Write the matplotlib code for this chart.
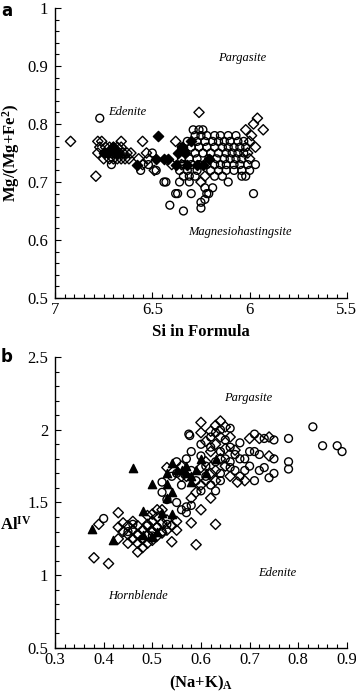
import matplotlib
matplotlib.use("Agg")
import matplotlib.pyplot as plt
from matplotlib.ticker import MultipleLocator

plt.rcParams['font.family'] = ['Liberation Serif', 'DejaVu Serif']
plt.rcParams['mathtext.fontset'] = 'custom'
plt.rcParams['mathtext.rm'] = 'Liberation Serif'
plt.rcParams['mathtext.bf'] = 'Liberation Serif:bold'
plt.rcParams['mathtext.it'] = 'Liberation Serif:italic'

# ---- panel a : Si vs Mg/(Mg+Fe2) ----
a_circ_si = [6.77, 6.71, 6.50, 6.56, 6.48, 6.52, 6.44, 6.37, 6.30, 5.98, 6.43, 6.41, 6.34, 6.38,
             6.36, 6.25, 6.25, 6.23, 6.21, 6.19, 6.11, 6.23, 6.22, 6.31, 6.28,
             6.29, 6.26, 6.24,
             6.28, 6.25, 6.22, 6.18, 6.15, 6.11, 6.07,
             6.32, 6.27, 6.23, 6.19, 6.16, 6.13, 6.10, 6.06, 6.03,
             6.35, 6.30, 6.26, 6.22, 6.18, 6.14, 6.11, 6.08, 6.05, 6.02,
             6.33, 6.28, 6.24, 6.20, 6.16, 6.12, 6.09, 6.06, 6.03,
             6.35, 6.31, 6.27, 6.21, 6.17, 6.13, 6.10, 6.07, 6.04,
             6.34, 6.30, 6.26, 6.22, 6.18, 6.15, 6.12, 6.08, 6.05, 6.01, 5.97,
             6.36, 6.32, 6.27, 6.20, 6.16, 6.12, 6.08, 6.04, 6.00,
             6.34, 6.31, 6.18, 6.14, 6.04, 6.02]
a_circ_mg = [0.81, 0.73, 0.75, 0.72, 0.72, 0.73, 0.70, 0.68, 0.68, 0.68, 0.70, 0.66, 0.65, 0.68,
             0.70, 0.665, 0.655, 0.67, 0.68, 0.69, 0.70, 0.69, 0.68, 0.70, 0.71,
             0.79, 0.79, 0.79,
             0.78, 0.78, 0.78, 0.78, 0.78, 0.78, 0.78,
             0.77, 0.77, 0.77, 0.77, 0.77, 0.77, 0.77, 0.77, 0.77,
             0.76, 0.76, 0.76, 0.76, 0.76, 0.76, 0.76, 0.76, 0.76, 0.76,
             0.75, 0.75, 0.75, 0.75, 0.75, 0.75, 0.75, 0.75, 0.75,
             0.74, 0.74, 0.74, 0.74, 0.74, 0.74, 0.74, 0.74, 0.74,
             0.73, 0.73, 0.73, 0.73, 0.73, 0.73, 0.73, 0.73, 0.73, 0.73, 0.73,
             0.72, 0.72, 0.72, 0.72, 0.72, 0.72, 0.72, 0.72, 0.72,
             0.71, 0.71, 0.71, 0.71, 0.71, 0.71]

a_diam_si = [6.92, 6.79, 6.78, 6.77, 6.76, 6.78, 6.75, 6.66, 6.55, 6.53, 6.49, 6.40, 6.26,
             5.96, 5.93, 6.02, 5.98, 5.99, 6.00, 5.97, 6.01, 6.00, 6.23, 6.38, 6.35, 6.25,
             6.74, 6.72, 6.70, 6.68, 6.66, 6.73, 6.71, 6.69, 6.67, 6.65,
             6.72, 6.70, 6.68, 6.66, 6.64, 6.62, 6.63, 6.61, 6.57, 6.55, 6.52]
a_diam_mg = [0.77, 0.71, 0.77, 0.76, 0.77, 0.75, 0.74, 0.77, 0.77, 0.75, 0.72, 0.73, 0.82,
             0.81, 0.79, 0.79, 0.80, 0.78, 0.77, 0.76, 0.75, 0.74, 0.71, 0.77, 0.73, 0.70,
             0.76, 0.76, 0.76, 0.76, 0.76, 0.75, 0.75, 0.75, 0.75, 0.75,
             0.74, 0.74, 0.74, 0.74, 0.74, 0.74, 0.75, 0.75, 0.74, 0.73, 0.74]

a_fill_si = [6.47, 6.75, 6.73, 6.70, 6.68, 6.58, 6.48, 6.44, 6.42, 6.37, 6.35, 6.33,
             6.30, 6.27, 6.24, 6.21, 6.38, 6.32]
a_fill_mg = [0.78, 0.75, 0.75, 0.76, 0.75, 0.73, 0.74, 0.74, 0.74, 0.75, 0.76, 0.75,
             0.77, 0.73, 0.73, 0.74, 0.73, 0.73]

# ---- panel b : (Na+K)A vs AlIV ----
b_circ_nak = [0.40, 0.58, 0.56, 0.55, 0.53, 0.57, 0.577, 0.575, 0.83, 0.85, 0.88, 0.89, 0.78,
              0.78, 0.78, 0.75, 0.75, 0.75, 0.73, 0.71, 0.73, 0.71, 0.70, 0.71, 0.69, 0.70,
              0.68, 0.72, 0.74, 0.72, 0.66, 0.67, 0.68, 0.64, 0.62, 0.60, 0.63, 0.61, 0.59,
              0.56, 0.55, 0.55, 0.57, 0.58, 0.60, 0.60, 0.62, 0.63, 0.64, 0.66, 0.65, 0.66,
              0.64, 0.62, 0.61, 0.63, 0.65, 0.67, 0.68, 0.69, 0.66, 0.64, 0.58, 0.54, 0.52,
              0.52, 0.50, 0.49, 0.47, 0.51, 0.53, 0.45, 0.48, 0.50, 0.52, 0.46, 0.57]
b_circ_al = [1.39, 1.48, 1.45, 1.50, 1.52, 1.47, 1.96, 1.97, 2.02, 1.89, 1.89, 1.85, 1.94,
             1.78, 1.73, 1.93, 1.80, 1.70, 1.74, 1.65, 1.94, 1.97, 1.85, 1.85, 1.80, 1.75,
             1.91, 1.72, 1.67, 1.83, 1.78, 1.72, 1.68, 1.70, 1.62, 1.58, 1.58, 1.68, 1.65,
             1.62, 1.70, 1.78, 1.80, 1.85, 1.82, 1.90, 1.95, 1.98, 2.00, 2.01, 1.93, 1.88,
             1.85, 1.88, 1.75, 1.78, 1.80, 1.83, 1.80, 1.72, 1.74, 1.65, 1.72, 1.68, 1.64,
             1.57, 1.30, 1.34, 1.28, 1.33, 1.35, 1.30, 1.25, 1.27, 1.30, 1.35, 1.43]

b_diam_nak = [0.38, 0.41, 0.43, 0.39, 0.54, 0.59, 0.63, 0.58, 0.60, 0.62, 0.63, 0.675, 0.69,
              0.74, 0.74, 0.72, 0.70, 0.60, 0.56, 0.53, 0.51, 0.50,
              0.43, 0.43, 0.44, 0.44, 0.45, 0.45, 0.45, 0.46, 0.46, 0.46, 0.47, 0.47, 0.47,
              0.47, 0.48, 0.48, 0.48, 0.49, 0.49, 0.49, 0.49, 0.50, 0.50, 0.50, 0.51, 0.51,
              0.51, 0.52, 0.52, 0.52, 0.53, 0.53, 0.54, 0.55, 0.55,
              0.60, 0.61, 0.62, 0.63, 0.64, 0.65, 0.62, 0.63, 0.64, 0.65, 0.66, 0.64, 0.65,
              0.63, 0.62, 0.61, 0.60, 0.59, 0.58, 0.66, 0.67, 0.61, 0.60, 0.57, 0.56]
b_diam_al = [1.12, 1.08, 1.43, 1.35, 1.23, 1.21, 1.35, 1.36, 1.45, 1.53, 1.65, 1.64, 1.65,
             1.82, 1.95, 1.94, 1.94, 2.05, 1.68, 1.74, 1.45, 1.42,
             1.33, 1.25, 1.30, 1.36, 1.22, 1.28, 1.34, 1.25, 1.31, 1.37, 1.16, 1.22, 1.28,
             1.34, 1.19, 1.25, 1.31, 1.22, 1.28, 1.35, 1.41, 1.24, 1.30, 1.37, 1.27, 1.33,
             1.40, 1.29, 1.36, 1.45, 1.31, 1.38, 1.34, 1.31, 1.37,
             1.98, 1.92, 1.99, 2.03, 2.06, 2.02, 1.85, 1.90, 1.95, 1.87, 1.95, 1.80, 1.75,
             1.72, 1.70, 1.65, 1.62, 1.57, 1.53, 1.68, 1.86, 1.78, 1.74, 1.68, 1.75]

b_tri_nak = [0.376, 0.42, 0.46, 0.48, 0.50, 0.52, 0.53, 0.54, 0.53, 0.54, 0.53, 0.54, 0.51,
             0.48, 0.50, 0.57, 0.58, 0.56, 0.59, 0.60, 0.57, 0.55, 0.58, 0.61, 0.63]
b_tri_al = [1.32, 1.24, 1.736, 1.44, 1.63, 1.43, 1.63, 1.57, 1.53, 1.77, 1.70, 1.42, 1.30,
            1.28, 1.26, 1.70, 1.68, 1.72, 1.72, 1.80, 1.75, 1.72, 1.64, 1.70, 1.80]

fig = plt.figure(figsize=(3.56, 6.94), dpi=100)
ax1 = fig.add_axes([0.1545, 0.5706, 0.820, 0.4179])
ax2 = fig.add_axes([0.1545, 0.0663, 0.820, 0.4193])

ms = 32
lw = 1.0


def style_axis(ax):
    for s in ['top', 'right']:
        ax.spines[s].set_visible(False)
    ax.spines['left'].set_linewidth(1.0)
    ax.spines['bottom'].set_linewidth(1.0)
    ax.tick_params(which='both', direction='in', labelsize=12, width=0.8, pad=3)
    ax.tick_params(axis='y', which='major', pad=5)
    ax.tick_params(which='major', length=4)
    ax.tick_params(which='minor', length=3)


# panel a
ax1.scatter(a_circ_si, a_circ_mg, s=ms, marker='o', facecolors='none', edgecolors='black', linewidths=lw)
ax1.scatter(a_diam_si, a_diam_mg, s=ms * 0.85, marker='D', facecolors='none', edgecolors='black', linewidths=lw)
ax1.scatter(a_fill_si, a_fill_mg, s=ms * 0.85, marker='D', facecolors='black', edgecolors='black', linewidths=lw)
ax1.set_xlim(7, 5.5)
ax1.set_ylim(0.5, 1.0)
ax1.xaxis.set_minor_locator(MultipleLocator(0.05))
ax1.yaxis.set_minor_locator(MultipleLocator(0.02))
ax1.set_xticks([7, 6.5, 6, 5.5])
ax1.set_xticklabels(['7', '6.5', '6', '5.5'])
ax1.set_yticks([0.5, 0.6, 0.7, 0.8, 0.9, 1.0])
ax1.set_yticklabels(['0.5', '0.6', '0.7', '0.8', '0.9', '1'])
style_axis(ax1)
ax1.set_xlabel('Si in Formula', fontsize=12, fontweight='bold', labelpad=4)
ax1.set_ylabel(r'Mg/(Mg+Fe$^{\mathbf{2}}$)', fontsize=12, fontweight='bold', labelpad=4)
ax1.text(6.63, 0.82, 'Edenite', fontsize=9, style='italic', ha='center', va='center')
ax1.text(6.04, 0.913, 'Pargasite', fontsize=9, style='italic', ha='center', va='center')
ax1.text(6.05, 0.613, 'Magnesiohastingsite', fontsize=9, style='italic', ha='center', va='center')
fig.text(0.003, 0.997, 'a', fontsize=12, fontweight='bold', family='DejaVu Sans', ha='left', va='top')

# panel b
ax2.scatter(b_circ_nak, b_circ_al, s=ms, marker='o', facecolors='none', edgecolors='black', linewidths=lw)
ax2.scatter(b_diam_nak, b_diam_al, s=ms * 0.85, marker='D', facecolors='none', edgecolors='black', linewidths=lw)
ax2.scatter(b_tri_nak, b_tri_al, s=ms * 1.1, marker='^', facecolors='black', edgecolors='black', linewidths=lw)
ax2.set_xlim(0.3, 0.9)
ax2.set_ylim(0.5, 2.5)
ax2.xaxis.set_major_locator(MultipleLocator(0.1))
ax2.xaxis.set_minor_locator(MultipleLocator(0.02))
ax2.yaxis.set_minor_locator(MultipleLocator(0.1))
ax2.set_yticks([0.5, 1.0, 1.5, 2.0, 2.5])
ax2.set_yticklabels(['0.5', '1', '1.5', '2', '2.5'])
style_axis(ax2)
ax2.set_xlabel(r'(Na+K)$_{\mathbf{A}}$', fontsize=12, fontweight='bold', labelpad=4)
fig.text(0.0, 1 - 525 / 694, r'Al$^{\mathbf{IV}}$', fontsize=12, fontweight='bold',
         ha='left', va='center')
ax2.text(0.697, 2.22, 'Pargasite', fontsize=9, style='italic', ha='center', va='center')
ax2.text(0.756, 1.015, 'Edenite', fontsize=9, style='italic', ha='center', va='center')
ax2.text(0.47, 0.86, 'Hornblende', fontsize=9, style='italic', ha='center', va='center')
fig.text(0.003, 1 - 357 / 694, 'b', fontsize=12, fontweight='bold', family='DejaVu Sans', ha='left', va='center')

fig.savefig('out.png', dpi=100)
